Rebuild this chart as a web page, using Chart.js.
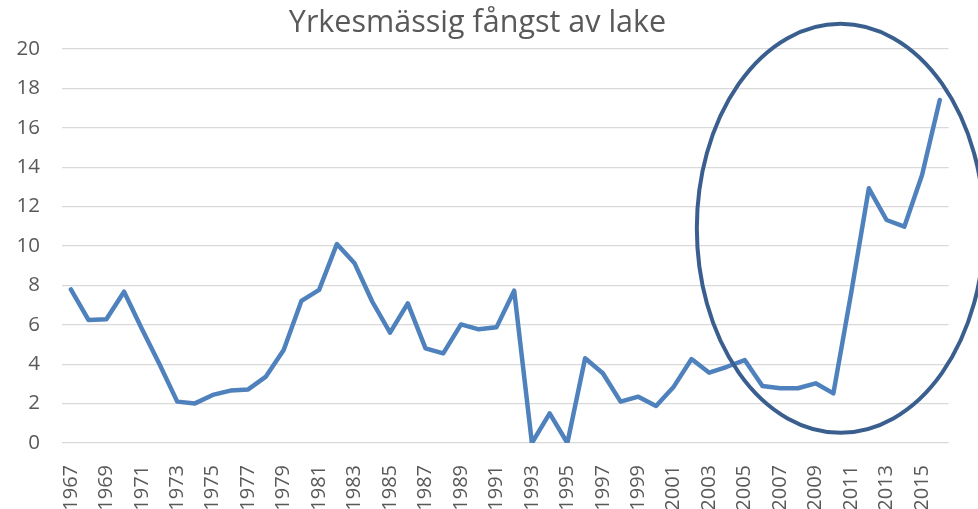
<!DOCTYPE html>
<html>
<head>
<meta charset="utf-8">
<script src="https://cdn.jsdelivr.net/npm/chart.js@4/dist/chart.umd.min.js"></script>
<style>
    html, body { margin: 0; padding: 0; background: #fff; overflow: hidden; }
    #wrap { width: 978px; height: 518px; position: relative; }
</style>
</head>
<body>
<div id="wrap"><canvas id="chart"></canvas></div>
<script>
// Data
const years = [
    '1967', '1968', '1969', '1970', '1971', '1972', '1973', '1974', '1975', '1976',
    '1977', '1978', '1979', '1980', '1981', '1982', '1983', '1984', '1985', '1986',
    '1987', '1988', '1989', '1990', '1991', '1992', '1993', '1994', '1995', '1996',
    '1997', '1998', '1999', '2000', '2001', '2002', '2003', '2004', '2005', '2006',
    '2007', '2008', '2009', '2010', '2011', '2012', '2013', '2014', '2015', '2016'
];
const catch_ = [
    7.8, 6.24, 6.28, 7.68, 5.8, 4.0, 2.1, 2.01, 2.44, 2.66,
    2.72, 3.37, 4.72, 7.21, 7.77, 10.1, 9.12, 7.17, 5.6, 7.09,
    4.8, 4.55, 6.02, 5.77, 5.87, 7.73, 0, 1.5, 0, 4.3,
    3.54, 2.1, 2.35, 1.88, 2.86, 4.26, 3.57, 3.87, 4.21, 2.89,
    2.78, 2.78, 3.03, 2.52, 7.6, 12.93, 11.32, 10.98, 13.6, 17.41
];
const yTicks = [0, 2, 4, 6, 8, 10, 12, 14, 16, 18, 20];

const titleText = 'Yrkesmässig fångst av lake';

// Hand-drawn ring around the last years, placed in data units
const ellipsePlugin = {
    id: 'ringOverlay',
    afterDatasetsDraw(chart, args, opts) {
        const xs = chart.scales.x;
        const ys = chart.scales.y;
        const cx = xs.getPixelForValue(opts.cx);
        const cy = ys.getPixelForValue(opts.cy);
        const rx = Math.abs(xs.getPixelForValue(opts.cx + opts.rx) - cx);
        const ry = Math.abs(ys.getPixelForValue(opts.cy + opts.ry) - cy);
        const ctx = chart.ctx;
        ctx.save();
        ctx.beginPath();
        ctx.ellipse(cx, cy, rx, ry, 0, 0, Math.PI * 2);
        ctx.strokeStyle = opts.color;
        ctx.lineWidth = opts.width;
        ctx.stroke();
        ctx.restore();
    }
};

const fontFamily = "'Open Sans', 'Noto Sans', sans-serif";

new Chart(document.getElementById('chart'), {
    type: 'line',
    data: {
        labels: years,
        datasets: [{
            label: 'Fångst',
            data: catch_,
            borderColor: '#4F81BD',
            backgroundColor: '#4F81BD',
            borderWidth: 4.5,
            borderCapStyle: 'round',
            borderJoinStyle: 'round',
            pointRadius: 0,
            tension: 0,
            fill: false
        }]
    },
    options: {
        responsive: true,
        maintainAspectRatio: false,
        animation: false,
        layout: { padding: { left: 0, right: 23, top: 0, bottom: 0 } },
        plugins: {
            legend: { display: false },
            tooltip: { enabled: false },
            title: {
                display: true,
                text: titleText,
                color: '#595959',
                font: { family: fontFamily, size: 30.5, weight: 'normal', lineHeight: 1.2 },
                padding: { top: 5, bottom: 7.4 }
            },
            ringOverlay: {
                cx: 43.4, cy: 10.9, rx: 8.1, ry: 10.38,
                color: '#3A5F8F', width: 4
            }
        },
        scales: {
            x: {
                offset: true,
                grid: { display: false },
                border: { display: false },
                ticks: {
                    autoSkip: false,
                    maxRotation: 90,
                    minRotation: 90,
                    padding: 14,
                    color: '#595959',
                    font: { family: fontFamily, size: 20 },
                    callback: function(value, index) {
                        return index % 2 === 0 ? this.getLabelForValue(value) : '';
                    }
                },
                afterFit(scale) { scale.height = 518 - 443; }
            },
            y: {
                min: 0,
                max: 20,
                afterBuildTicks(scale) { scale.ticks = yTicks.map(v => ({ value: v })); },
                grid: { color: '#D9D9D9', lineWidth: 1.3, drawTicks: false },
                border: { display: false },
                ticks: {
                    padding: 22,
                    color: '#595959',
                    font: { family: fontFamily, size: 20.5 }
                },
                afterFit(scale) { scale.width = 62; }
            }
        }
    },
    plugins: [ellipsePlugin]
});
</script>
</body>
</html>
